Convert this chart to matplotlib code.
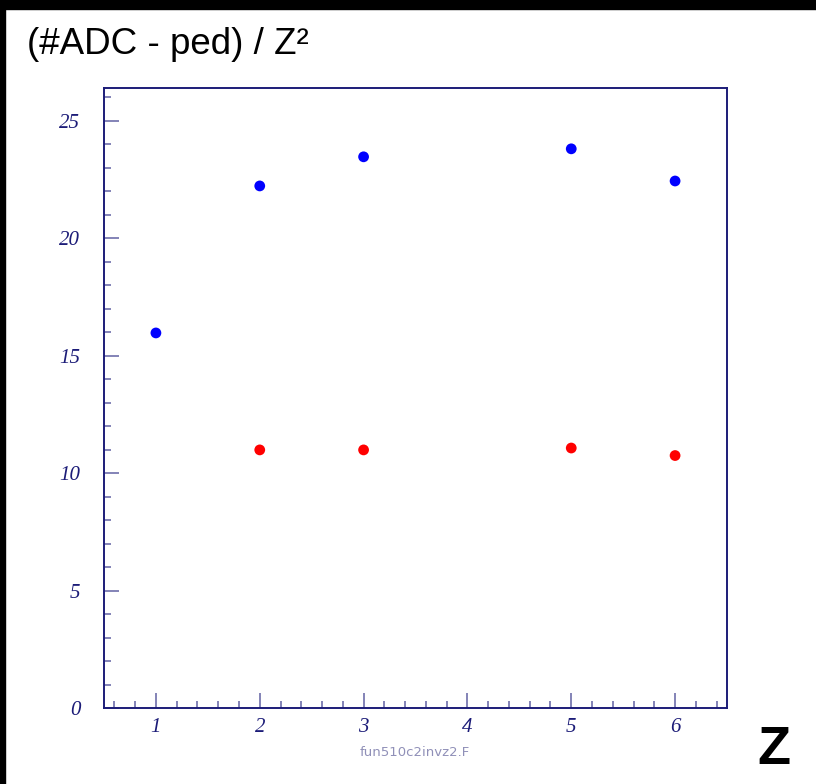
import matplotlib
matplotlib.use("Agg")
import matplotlib.pyplot as plt
from matplotlib.patches import Rectangle
from matplotlib.ticker import MultipleLocator

# Data
blue_x = [1, 2, 3, 5, 6]
blue_y = [15.97, 22.23, 23.47, 23.81, 22.44]
red_x = [2, 3, 5, 6]
red_y = [10.99, 10.99, 11.07, 10.75]
x_ticks = [1, 2, 3, 4, 5, 6]
y_ticks = [0, 5, 10, 15, 20, 25]

navy = "#1c1c78"
tickc = "#6e6eaa"

fig = plt.figure(figsize=(8.16, 7.84), dpi=100)
fig.patch.set_facecolor("white")
# black frame edges
fig.patches.append(Rectangle((0, 1 - 9/784), 1, 9/784, transform=fig.transFigure, color="black", zorder=0))
fig.patches.append(Rectangle((0, 0), 5/816, 1, transform=fig.transFigure, color="black", zorder=0))

ax = fig.add_axes([104/816, 1 - 708/784, (727 - 104)/816, (708 - 88)/784])
ax.scatter(blue_x, blue_y, s=60, color="#0000ff", edgecolors="none", zorder=3)
ax.scatter(red_x, red_y, s=60, color="#ff0000", edgecolors="none", zorder=3)

ax.set_xlim(0.5, 6.5)
ax.set_ylim(0, 26.4)
ax.set_xticks(x_ticks)
ax.set_yticks(y_ticks)
ax.xaxis.set_minor_locator(MultipleLocator(0.2))
ax.yaxis.set_minor_locator(MultipleLocator(1))

for sp in ax.spines.values():
    sp.set_color(navy)
    sp.set_linewidth(1.4)

ax.tick_params(which="both", direction="in", color=tickc, top=False, right=False, width=1.2)
ax.tick_params(which="major", length=11)
ax.tick_params(which="minor", length=5)
ax.tick_params(axis="x", which="major", pad=7)
ax.tick_params(axis="y", which="major", pad=17)

for lab in ax.get_xticklabels() + ax.get_yticklabels():
    lab.set_fontfamily("Liberation Serif")
    lab.set_fontstyle("italic")
    lab.set_fontsize(15)
    lab.set_color(navy)

fig.text(27/816, 1 - 45/784, "(#ADC - ped) / Z²", fontsize=26.5, family="Liberation Sans",
         ha="left", va="center", color="black")
fig.text(774/816, 1 - 750/784, "Z", fontsize=39, family="Liberation Sans", fontweight="bold",
         ha="center", va="center", color="black")
fig.text(415/816, 1 - 752/784, "fun510c2invz2.F", fontsize=9.5, family="DejaVu Sans",
         ha="center", va="center", color="#9090b8")

fig.savefig("out.png", dpi=100, facecolor="white")
